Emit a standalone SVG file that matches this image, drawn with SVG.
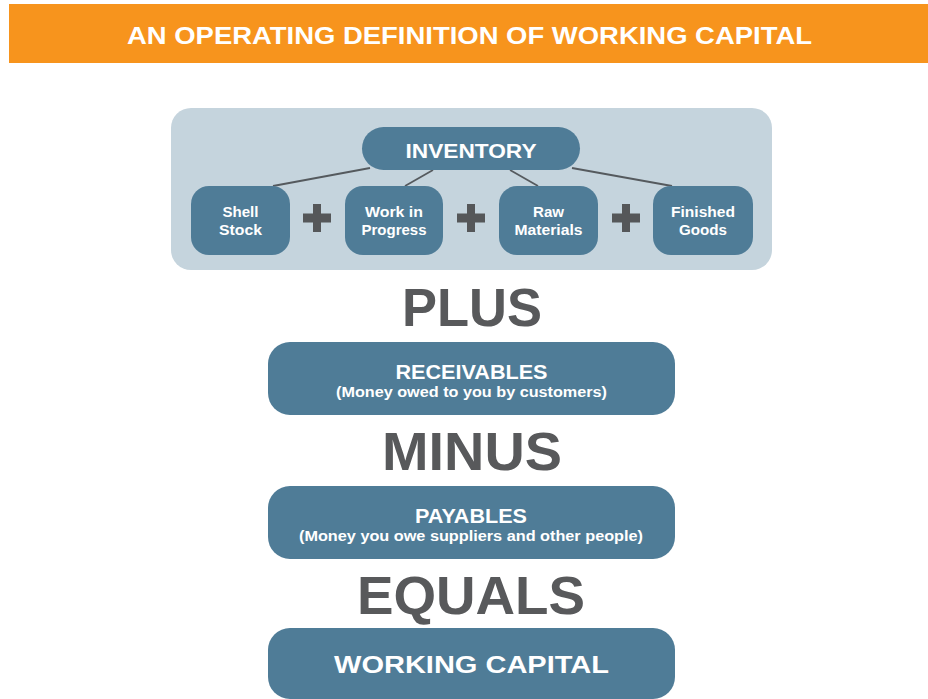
<svg xmlns="http://www.w3.org/2000/svg" xmlns:xlink="http://www.w3.org/1999/xlink" width="928" height="699" viewBox="0 0 928 699">
  <defs>
    <style>
      .node { fill: #4f7c97; }
      .wt { fill: #ffffff; font-family: "Liberation Sans", Arial, sans-serif; font-weight: 700; text-anchor: middle; }
      .big { fill: #58595b; font-family: "Liberation Sans", Arial, sans-serif; font-weight: 700; text-anchor: middle; font-size: 54px; }
      .sm { font-size: 15px; }
      .conn { stroke: #555a5e; stroke-width: 1.8; fill: none; }
    </style>
    <path id="plus" d="M -4 -14 H 4 V -4.5 H 14 V 4.5 H 4 V 14 H -4 V 4.5 H -14 V -4.5 H -4 Z" fill="#555759"/>
  </defs>
  <rect width="928" height="699" fill="#ffffff"/>

  <g id="header">
    <rect x="9" y="4" width="919" height="59" fill="#f7941d"/>
    <text class="wt" x="469.5" y="44" font-size="24" textLength="685" lengthAdjust="spacingAndGlyphs">AN OPERATING DEFINITION OF WORKING CAPITAL</text>
  </g>

  <g id="inventory-panel">
    <rect x="171" y="108" width="601" height="162" rx="20" fill="#c5d4dd"/>
  </g>

  <g id="connectors">
    <line class="conn" x1="370" y1="168" x2="273" y2="186"/>
    <line class="conn" x1="433" y1="170" x2="405" y2="186"/>
    <line class="conn" x1="510" y1="170" x2="538" y2="186"/>
    <line class="conn" x1="572" y1="168" x2="672" y2="186"/>
  </g>

  <g id="inventory">
    <rect class="node" x="362" y="127" width="218" height="43" rx="21.5"/>
    <text class="wt" x="471" y="158" font-size="20" textLength="131" lengthAdjust="spacingAndGlyphs">INVENTORY</text>
  </g>

  <g id="shell-stock">
    <rect class="node" x="191" y="186" width="99" height="69" rx="18"/>
    <text class="wt sm" x="240.5" y="217" textLength="36" lengthAdjust="spacingAndGlyphs">Shell</text>
    <text class="wt sm" x="240.5" y="235" textLength="43" lengthAdjust="spacingAndGlyphs">Stock</text>
  </g>
  <g id="work-in-progress">
    <rect class="node" x="345" y="186" width="98" height="69" rx="18"/>
    <text class="wt sm" x="394" y="217" textLength="58" lengthAdjust="spacingAndGlyphs">Work in</text>
    <text class="wt sm" x="394" y="235" textLength="65" lengthAdjust="spacingAndGlyphs">Progress</text>
  </g>
  <g id="raw-materials">
    <rect class="node" x="499" y="186" width="99" height="69" rx="18"/>
    <text class="wt sm" x="548.5" y="217" textLength="31" lengthAdjust="spacingAndGlyphs">Raw</text>
    <text class="wt sm" x="548.5" y="235" textLength="68" lengthAdjust="spacingAndGlyphs">Materials</text>
  </g>
  <g id="finished-goods">
    <rect class="node" x="653" y="186" width="100" height="69" rx="18"/>
    <text class="wt sm" x="703" y="217" textLength="64" lengthAdjust="spacingAndGlyphs">Finished</text>
    <text class="wt sm" x="703" y="235" textLength="48" lengthAdjust="spacingAndGlyphs">Goods</text>
  </g>

  <g id="plus-signs">
    <use xlink:href="#plus" href="#plus" x="317" y="218"/>
    <use xlink:href="#plus" href="#plus" x="471" y="218"/>
    <use xlink:href="#plus" href="#plus" x="626" y="218"/>
  </g>

  <g id="plus-label">
    <text class="big" x="472" y="326" textLength="140" lengthAdjust="spacingAndGlyphs">PLUS</text>
  </g>

  <g id="receivables">
    <rect class="node" x="268" y="342" width="407" height="73" rx="22"/>
    <text class="wt" x="471.5" y="379" font-size="20" textLength="152" lengthAdjust="spacingAndGlyphs">RECEIVABLES</text>
    <text class="wt" x="471.5" y="396.5" font-size="14" textLength="271" lengthAdjust="spacingAndGlyphs">(Money owed to you by customers)</text>
  </g>

  <g id="minus-label">
    <text class="big" x="472" y="470" textLength="180" lengthAdjust="spacingAndGlyphs">MINUS</text>
  </g>

  <g id="payables">
    <rect class="node" x="268" y="486" width="407" height="73" rx="22"/>
    <text class="wt" x="471" y="523" font-size="20" textLength="112" lengthAdjust="spacingAndGlyphs">PAYABLES</text>
    <text class="wt" x="471" y="540.5" font-size="14" textLength="344" lengthAdjust="spacingAndGlyphs">(Money you owe suppliers and other people)</text>
  </g>

  <g id="equals-label">
    <text class="big" x="471" y="614" textLength="228" lengthAdjust="spacingAndGlyphs">EQUALS</text>
  </g>

  <g id="working-capital">
    <rect class="node" x="268" y="628" width="407" height="71" rx="22"/>
    <text class="wt" x="471.5" y="673" font-size="24" textLength="275" lengthAdjust="spacingAndGlyphs">WORKING CAPITAL</text>
  </g>
</svg>
